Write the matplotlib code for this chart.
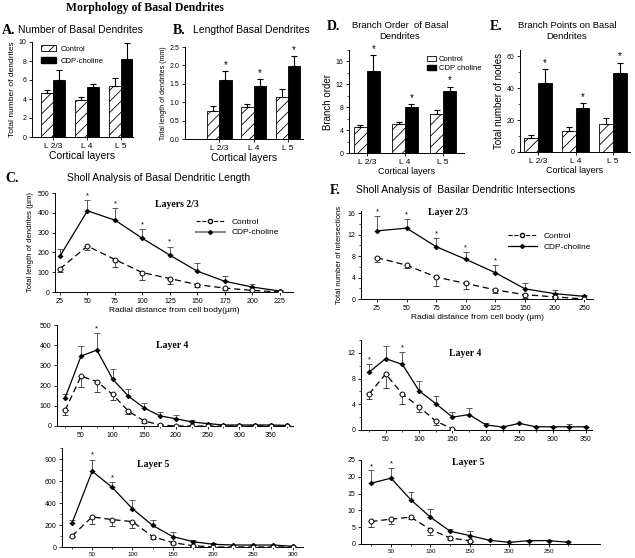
import numpy as np
import matplotlib
matplotlib.use("Agg")
import matplotlib.pyplot as plt
from matplotlib.lines import Line2D
from matplotlib.patches import Patch

plt.rcParams['font.family'] = ['Liberation Sans', 'DejaVu Sans']
plt.rcParams['hatch.linewidth'] = 0.6
plt.rcParams['axes.linewidth'] = 0.7

W, H = 635, 558

################# bar chart data (A, B, D, E)
layers = ['L 2/3', 'L 4', 'L 5']

A_ctrl = [4.6, 3.85, 5.4]
A_ctrl_e = [0.4, 0.35, 0.85]
A_cdp = [6.05, 5.3, 8.2]
A_cdp_e = [1.0, 0.25, 1.7]

B_ctrl = [0.76, 0.87, 1.15]
B_ctrl_e = [0.15, 0.09, 0.2]
B_cdp = [1.6, 1.44, 1.98]
B_cdp_e = [0.25, 0.2, 0.28]

D_ctrl = [4.6, 5.1, 6.8]
D_ctrl_e = [0.35, 0.35, 0.8]
D_cdp = [14.3, 8.0, 10.8]
D_cdp_e = [2.8, 0.6, 0.8]

E_ctrl = [9.0, 13.0, 17.5]
E_ctrl_e = [1.5, 2.5, 4.0]
E_cdp = [43.5, 27.5, 49.5]
E_cdp_e = [8.5, 3.0, 6.5]

################# Sholl data, panel C (length, um)
C23_x = [25, 50, 75, 100, 125, 150, 175, 200, 225]
C23_ctrl = [117, 232, 164, 98, 68, 37, 20, 8, 0]
C23_ctrl_e = [17, 20, 37, 35, 29, 12, 8, 0, 0]
C23_cdp = [181, 410, 363, 271, 186, 105, 54, 25, 5]
C23_cdp_e = [34, 53, 59, 46, 43, 42, 26, 14, 3]
C23_stars = [50, 75, 100, 125]

C4_x = [25, 50, 75, 100, 125, 150, 175, 200, 225, 250, 275, 300, 325, 350, 375]
C4_ctrl = [78, 247, 220, 156, 73, 25, 5, 0, 0, 0, 0, 0, 0, 0, 0]
C4_ctrl_e = [22, 53, 54, 29, 15, 8, 3, 0, 0, 0, 0, 0, 0, 0, 0]
C4_cdp = [141, 346, 376, 232, 147, 89, 50, 36, 20, 12, 5, 5, 5, 5, 3]
C4_cdp_e = [16, 50, 83, 48, 38, 27, 20, 17, 8, 3, 1, 1, 1, 1, 1]
C4_stars = [75]

C5_x = [25, 50, 75, 100, 125, 150, 175, 200, 225, 250, 275, 300]
C5_ctrl = [101, 274, 249, 231, 95, 40, 12, 0, 0, 0, 0, 0]
C5_ctrl_e = [10, 65, 55, 59, 21, 12, 5, 0, 0, 0, 0, 0]
C5_cdp = [218, 689, 541, 348, 197, 95, 49, 25, 18, 18, 18, 6]
C5_cdp_e = [31, 105, 47, 80, 52, 40, 16, 9, 4, 4, 4, 2]
C5_stars = [50, 75]

################# Sholl data, panel F (intersections)
F23_labels = ['25', '50', '75', '100', '125', '150', '200', '250']
F23_ctrl = [7.7, 6.3, 4.1, 2.9, 1.7, 0.8, 0.4, 0.0]
F23_ctrl_e = [0.8, 0.6, 1.6, 1.1, 0.6, 0.6, 0.2, 0.0]
F23_cdp = [12.7, 13.2, 9.75, 7.4, 4.9, 1.9, 1.0, 0.5]
F23_cdp_e = [2.7, 1.8, 1.55, 1.3, 1.5, 1.0, 0.7, 0.3]
F23_stars = [0, 1, 2, 3, 4]

F4_x = [25, 50, 75, 100, 125, 150, 175, 200, 225, 250, 275, 300, 325, 350]
F4_cdp = [9.0, 11.1, 10.2, 6.1, 4.1, 2.0, 2.4, 0.8, 0.46, 1.03, 0.5, 0.5, 0.5, 0.5]
F4_cdp_e = [1.3, 2.0, 2.0, 1.6, 1.2, 0.8, 1.1, 0.3, 0, 0, 0, 0, 0.4, 0]
F4_xc = [25, 50, 75, 100, 125, 150]
F4_ctrl = [5.6, 8.7, 5.6, 3.6, 1.4, 0.15]
F4_ctrl_e = [0.8, 2.1, 1.5, 0.8, 0.6, 0.1]
F4_stars = [25, 75]

F5_x = [25, 50, 75, 100, 125, 150, 175, 200, 225, 250, 275]
F5_cdp = [18.1, 19.6, 13.2, 8.0, 3.8, 2.5, 1.1, 0.5, 1.0, 1.0, 0.5]
F5_cdp_e = [3.8, 3.0, 2.4, 2.5, 0.8, 1.3, 0, 0, 0, 0, 0.5]
F5_xc = [25, 50, 75, 100, 125, 150]
F5_ctrl = [6.7, 7.4, 8.0, 4.3, 1.8, 1.0]
F5_ctrl_e = [1.5, 1.5, 0.6, 1.5, 0.5, 0.5]
F5_stars = [25, 50]


fig = plt.figure(figsize=(W/100, H/100), dpi=100)

def ax_px(l, t, r, b):
    return fig.add_axes([l/W, 1-b/H, (r-l)/W, (b-t)/H])

def txt(x, y, s, **kw):
    fig.text(x/W, 1-y/H, s, **kw)

def clean(ax, fs=5):
    ax.spines['top'].set_visible(False)
    ax.spines['right'].set_visible(False)
    ax.tick_params(labelsize=fs, length=2.5, width=0.6, pad=1.5)
    ax.tick_params(which='minor', length=1.5, width=0.5)

def bars(ax, ctrl, ctrl_e, cdp, cdp_e, w, stars, star_off):
    x = np.arange(3)
    ek = dict(lw=0.8, capsize=2.5, capthick=0.8, ecolor='k')
    ax.bar(x-w/2, ctrl, w, color='white', edgecolor='k', hatch='///', lw=0.6,
           yerr=[np.zeros(3), ctrl_e], error_kw=ek)
    ax.bar(x+w/2, cdp, w, color='k', edgecolor='k', lw=0.6,
           yerr=[np.zeros(3), cdp_e], error_kw=ek)
    if stars:
        for i in range(3):
            ax.text(x[i]+w/2, cdp[i]+cdp_e[i]+star_off, '*', ha='center', va='bottom', fontsize=7)
    ax.set_xticks(x)
    ax.set_xticklabels(layers)
    ax.tick_params(axis='x', length=0)
    clean(ax)
    ax.tick_params(axis='x', labelsize=6)

def sholl(ax, xc, ctrl, ctrl_e, xd, cdp, cdp_e, stars, star_off):
    zc = np.zeros(len(ctrl))
    zd = np.zeros(len(cdp))
    ax.errorbar(xd, cdp, yerr=[zd, cdp_e], fmt='-D', color='k', ms=2, lw=0.9,
                ecolor='0.25', elinewidth=0.6, capsize=2.2, capthick=0.6, zorder=3)
    ax.errorbar(xc, ctrl, yerr=[ctrl_e, zc], fmt='--o', color='k', mfc='white', ms=3.5,
                mew=0.7, lw=0.9, dashes=(5, 3), ecolor='0.25', elinewidth=0.6,
                capsize=2.2, capthick=0.6, zorder=4)
    xd = list(xd)
    for s in stars:
        i = xd.index(s)
        ax.text(s, cdp[i]+cdp_e[i]+star_off, '*', ha='center', va='bottom', fontsize=5.5)
    clean(ax)

serif = ['Liberation Serif', 'DejaVu Serif']

################ Title
txt(145, 8, 'Morphology of Basal Dendrites', ha='center', va='center',
    family=serif, fontweight='bold', fontsize=8.5)

################ A
ax = ax_px(32, 42, 133, 137)
bars(ax, A_ctrl, A_ctrl_e, A_cdp, A_cdp_e, 0.36, False, 0)
ax.set_xlim(-0.62, 2.36)
ax.set_ylim(0, 10)
ax.set_yticks([0, 2, 4, 6, 8, 10])
ax.set_ylabel('Total number of dendrites', fontsize=6, labelpad=2)
ax.set_xlabel('Cortical layers', fontsize=7.5, labelpad=1)
ax.legend(handles=[Patch(facecolor='white', edgecolor='k', hatch='///', lw=0.6, label='Control'),
                   Patch(facecolor='k', edgecolor='k', label='CDP-choline')],
          loc='upper left', bbox_to_anchor=(0.02, 1.04), frameon=False, fontsize=5.5,
          handlelength=2.0, handleheight=0.8, handletextpad=0.6, labelspacing=0.6)
txt(2, 30, 'A.', family=serif, fontweight='bold', fontsize=10, va='center')
txt(18, 30, 'Number of Basal Dendrites', fontsize=7.5, va='center')

################ B
ax = ax_px(185, 47, 303, 139)
bars(ax, B_ctrl, B_ctrl_e, B_cdp, B_cdp_e, 0.36, True, 0.02)
ax.set_xlim(-1.0, 2.44)
ax.set_ylim(0, 2.5)
ax.set_yticks([0, 0.5, 1.0, 1.5, 2.0, 2.5])
ax.set_yticklabels(['0.0', '0.5', '1.0', '1.5', '2.0', '2.5'])
ax.set_ylabel('Total length of dendrites (mm)', fontsize=5, labelpad=2)
ax.set_xlabel('Cortical layers', fontsize=7.5, labelpad=1)
txt(173, 30, 'B.', family=serif, fontweight='bold', fontsize=10, va='center')
txt(193, 30, 'Lengthof Basal Dendrites', fontsize=7.5, va='center')

################ D
ax = ax_px(349, 50, 464, 153)
bars(ax, D_ctrl, D_ctrl_e, D_cdp, D_cdp_e, 0.34, True, 0.2)
ax.set_xlim(-0.47, 2.55)
ax.set_ylim(0, 18)
ax.set_yticks([0, 4, 8, 12, 16])
ax.set_yticks([2, 6, 10, 14, 18], minor=True)
ax.set_ylabel('Branch order', fontsize=7, labelpad=2)
ax.set_xlabel('Cortical layers', fontsize=6.5, labelpad=1)
ax.legend(handles=[Patch(facecolor='white', edgecolor='k', lw=0.6, label='Control'),
                   Patch(facecolor='k', edgecolor='k', label='CDP choline')],
          loc='upper left', bbox_to_anchor=(0.62, 1.01), frameon=False, fontsize=5.5,
          handlelength=1.1, handleheight=0.7, handletextpad=0.4, labelspacing=0.2)
txt(327, 27, 'D.', family=serif, fontweight='bold', fontsize=10, va='center')
txt(400, 31, 'Branch Order  of Basal\nDendrites', fontsize=6.8, ha='center', va='center',
    linespacing=1.2)

################ E
ax = ax_px(520, 50, 630, 152)
bars(ax, E_ctrl, E_ctrl_e, E_cdp, E_cdp_e, 0.37, True, 0.8)
ax.set_xlim(-0.48, 2.45)
ax.set_ylim(0, 64)
ax.set_yticks([0, 20, 40, 60])
ax.set_yticks([10, 30, 50], minor=True)
ax.set_ylabel('Total number of nodes', fontsize=7, labelpad=2)
ax.set_xlabel('Cortical layers', fontsize=6.5, labelpad=1)
txt(490, 27, 'E.', family=serif, fontweight='bold', fontsize=10, va='center')
txt(567, 31, 'Branch Points on Basal\nDendrites', fontsize=6.8, ha='center', va='center',
    linespacing=1.2)

################ C
txt(5, 178, 'C.', family=serif, fontweight='bold', fontsize=10, va='center')
txt(67, 178, 'Sholl Analysis of Basal Dendritic Length', fontsize=7.5, va='center')

ax = ax_px(55, 193, 293, 292)
sholl(ax, C23_x, C23_ctrl, C23_ctrl_e, C23_x, C23_cdp, C23_cdp_e, C23_stars, 4)
ax.set_xlim(20.5, 237)
ax.set_ylim(0, 500)
ax.set_xticks(C23_x)
ax.set_yticks([0, 100, 200, 300, 400, 500])
ax.set_ylabel('Total length of dendrites (\u00b5m)', fontsize=5.5, labelpad=3)
ax.set_xlabel('Radial distance from cell body(\u00b5m)', fontsize=6, labelpad=2)
ax.text(0.42, 0.88, 'Layers 2/3', transform=ax.transAxes, family=serif, fontweight='bold',
        fontsize=7, va='center')
ax.legend(handles=[Line2D([], [], color='k', ls='--', marker='o', mfc='white', ms=3, lw=0.8),
                   Line2D([], [], color='0.55', ls='-', marker='D', mfc='k', mec='k', ms=2, lw=1.5)],
          labels=['Control', 'CDP-choline'], loc='upper left', bbox_to_anchor=(0.56, 0.82),
          frameon=False, fontsize=6, handlelength=3.5, handletextpad=0.8, labelspacing=0.3)

ax = ax_px(57, 325, 293, 426)
sholl(ax, C4_x, C4_ctrl, C4_ctrl_e, C4_x, C4_cdp, C4_cdp_e, C4_stars, 4)
ax.set_xlim(12, 385)
ax.set_ylim(0, 500)
ax.set_xticks([50, 100, 150, 200, 250, 300, 350])
ax.set_xticks(C4_x, minor=True)
ax.set_yticks([0, 100, 200, 300, 400, 500])
ax.text(0.42, 0.8, 'Layer 4', transform=ax.transAxes, family=serif, fontweight='bold',
        fontsize=7, va='center')

ax = ax_px(62, 448, 303, 547)
sholl(ax, C5_x, C5_ctrl, C5_ctrl_e, C5_x, C5_cdp, C5_cdp_e, C5_stars, 8)
ax.set_xlim(12.5, 312)
ax.set_ylim(0, 900)
ax.set_xticks([50, 100, 150, 200, 250, 300])
ax.set_xticks(C5_x, minor=True)
ax.set_yticks([0, 200, 400, 600, 800])
ax.set_yticklabels(['0', '200', '400', '600', '900'])
ax.set_yticks([100, 300, 500, 700, 900], minor=True)
ax.tick_params(axis='x', labelsize=4.5, pad=0.8)
ax.text(0.31, 0.83, 'Layer 5', transform=ax.transAxes, family=serif, fontweight='bold',
        fontsize=7, va='center')

################ F
txt(330, 190, 'F.', family=serif, fontweight='bold', fontsize=10, va='center')
txt(356, 190, 'Sholl Analysis of  Basilar Dendritic Intersections', fontsize=7.5, va='center')

ax = ax_px(361, 211, 593, 299)
xf = np.arange(len(F23_labels))
sholl(ax, xf, F23_ctrl, F23_ctrl_e, xf, F23_cdp, F23_cdp_e, F23_stars, 0.1)
ax.set_xlim(-0.54, 7.3)
ax.set_ylim(0, 16.4)
ax.set_xticks(xf)
ax.set_xticklabels(F23_labels)
ax.set_yticks([0, 4, 8, 12, 16])
ax.set_yticks([2, 6, 10, 14], minor=True)
ax.set_ylabel('Total number of intersections', fontsize=5.5, labelpad=3)
ax.set_xlabel('Radial distance from cell body (\u00b5m)', fontsize=6, labelpad=2)
ax.text(0.29, 0.98, 'Layer 2/3', transform=ax.transAxes, family=serif, fontweight='bold',
        fontsize=7, va='center')
ax.legend(handles=[Line2D([], [], color='k', ls='--', marker='o', mfc='white', ms=3, lw=0.8),
                   Line2D([], [], color='k', ls='-', marker='D', ms=2, lw=0.9)],
          labels=['Control', 'CDP-choline'], loc='upper left', bbox_to_anchor=(0.6, 0.84),
          frameon=False, fontsize=6, handlelength=3.5, handletextpad=0.8, labelspacing=0.3)

ax = ax_px(361, 340, 592, 430)
sholl(ax, F4_xc, F4_ctrl, F4_ctrl_e, F4_x, F4_cdp, F4_cdp_e, F4_stars, 0.1)
ax.set_xlim(13, 359)
ax.set_ylim(0, 14)
ax.set_xticks([50, 100, 150, 200, 250, 300, 350])
ax.set_xticks(F4_x, minor=True)
ax.set_yticks([0, 4, 8, 12])
ax.set_yticks([2, 6, 10, 14], minor=True)
ax.text(0.38, 0.85, 'Layer 4', transform=ax.transAxes, family=serif, fontweight='bold',
        fontsize=7, va='center')

ax = ax_px(361, 460, 600, 544)
sholl(ax, F5_xc, F5_ctrl, F5_ctrl_e, F5_x, F5_cdp, F5_cdp_e, F5_stars, 0.1)
ax.set_xlim(12, 315)
ax.set_ylim(0, 25)
ax.set_xticks([50, 100, 150, 200, 250])
ax.set_xticks(F5_x, minor=True)
ax.set_yticks([0, 5, 10, 15, 20, 25])
ax.tick_params(axis='x', labelsize=4.5, pad=0.8)
ax.text(0.38, 0.97, 'Layer 5', transform=ax.transAxes, family=serif, fontweight='bold',
        fontsize=7, va='center')

fig.savefig('out.png', dpi=100)
